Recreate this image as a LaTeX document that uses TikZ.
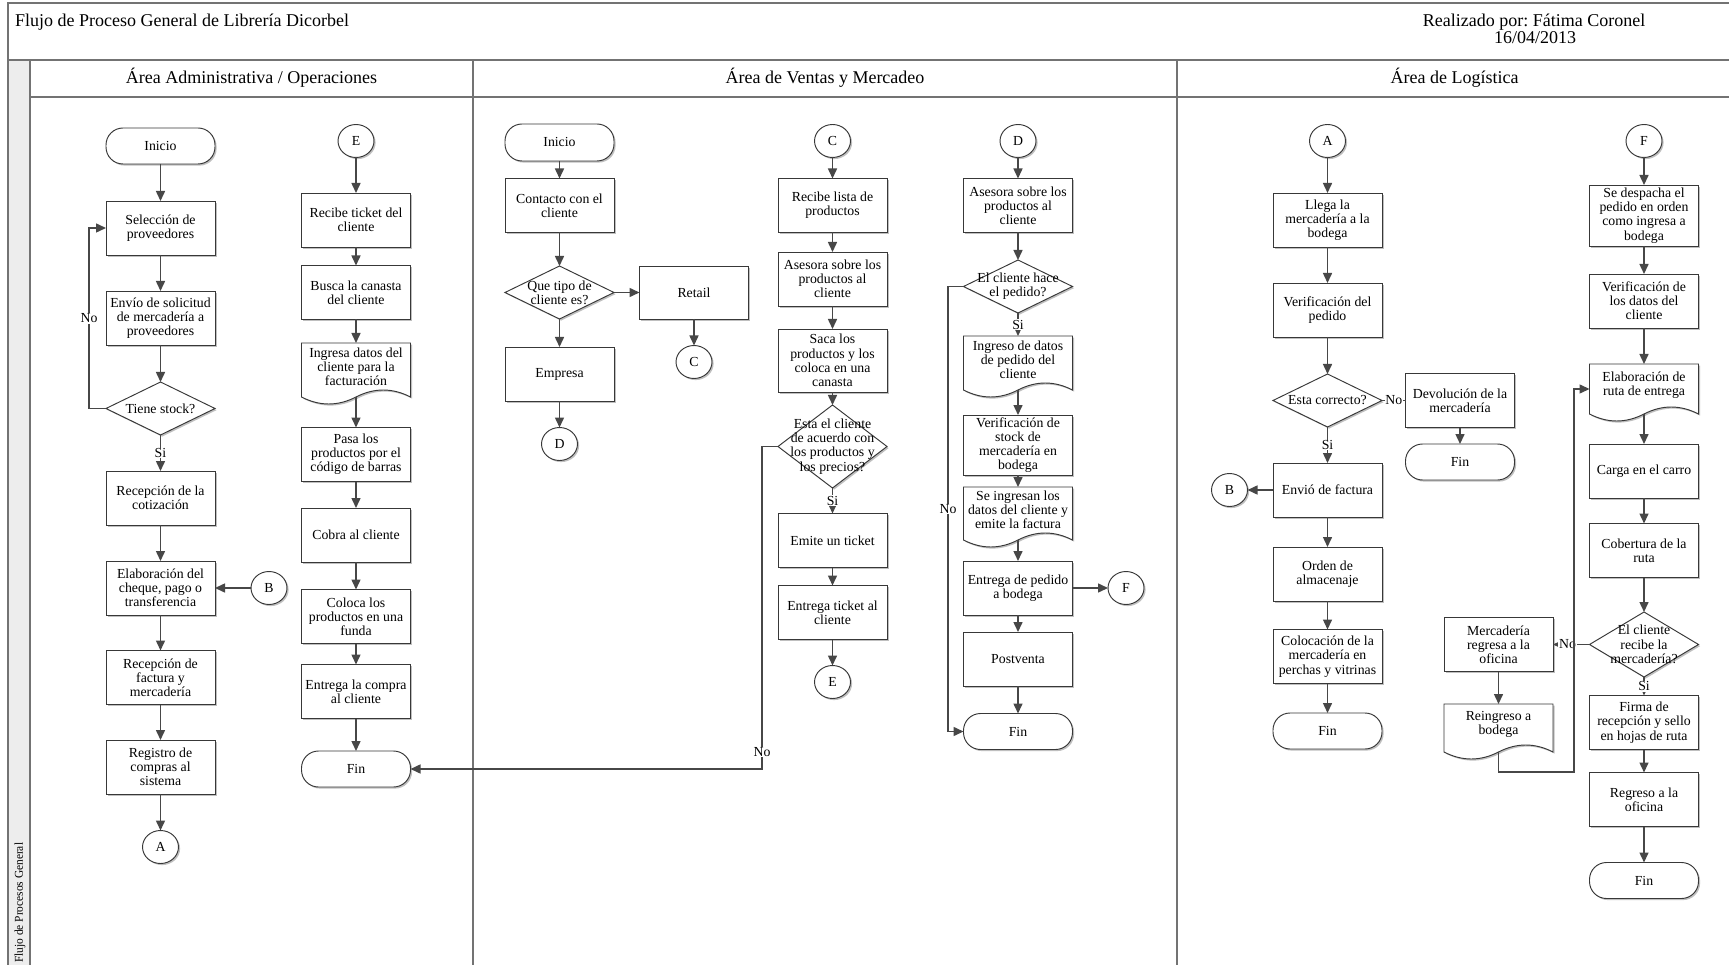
\documentclass[tikz,border=0pt]{standalone}
\usepackage{fontspec}
\setmainfont{Liberation Serif}
\usetikzlibrary{shapes.geometric,arrows.meta,shadows,calc}
\newcommand\myNF{\fontsize{13.8}{14.2}\selectfont}
\newcommand\myHF{\fontsize{18}{21}\selectfont}
\frenchspacing
\tikzset{
 ln/.style={draw=black!78, line width=0.95pt},
 shd/.style={drop shadow={shadow xshift=1.6pt,shadow yshift=-1.6pt,fill=black!25,opacity=1}},
 box/.style={rectangle, ln, fill=white, shd, minimum width=109pt, minimum height=54pt, inner sep=0pt, outer sep=0pt, font=\myNF, align=center},
 term/.style={box, rounded corners=17pt, minimum height=36pt},
 dia/.style={diamond, ln, fill=white, shd, minimum width=109pt, minimum height=53pt, inner sep=0pt, outer sep=0pt},
 con/.style={ellipse, ln, fill=white, shd, minimum width=36pt, minimum height=33pt, inner sep=0pt, outer sep=0pt, font=\myNF},
 txt/.style={font=\myNF, align=center, inner sep=0pt},
 arr/.style={draw=black!72, line width=1.5pt, -{Triangle[length=10pt,width=9pt]}},
 plain/.style={draw=black!72, line width=1.5pt},
 lbl/.style={font=\myNF, fill=white, inner sep=0.8pt},
 docbox/.style={rectangle, minimum width=109pt, inner sep=0pt, outer sep=0pt},
 frame/.style={draw=black!55, line width=1.3pt},
}
\newcommand\docn[5]{%
  \node[docbox, minimum height={(#4-#3)*1pt}] (#1) at (#2,{(#3+#4)/2}) {};
  \draw[ln, fill=white, shd] (#1.south east) -- (#1.north east) -- (#1.north west) -- (#1.south west)
     .. controls +(18.17,9.33) and +(-18.17,9.33) .. (#1.south)
     .. controls +(18.17,-9.33) and +(-18.17,-9.33) .. (#1.south east) -- cycle;
  \node[txt, yshift=3.5pt] (#1t) at (#1) {#5};
}
\begin{document}
\begin{tikzpicture}[x=1pt,y=-1pt]
\path[use as bounding box] (0,0) rectangle (1729,965);
\clip (0,0) rectangle (1729,965);
\fill[white] (0,0) rectangle (1729,965);
% frame
\fill[black!7] (8,60) rectangle (30,975);
\draw[frame] (8,975) -- (8,3) -- (1745,3);
\draw[frame] (8,60) -- (1745,60);
\draw[frame] (30,60) -- (30,975);
\draw[frame] (30,97) -- (1745,97);
\draw[frame] (473,60) -- (473,975);
\draw[frame] (1177,60) -- (1177,975);
\node[font=\myHF, anchor=base west, inner sep=0pt] (title) at (15,27) {Flujo de Proceso General de Librería Dicorbel};
\node[font=\myHF, anchor=base, inner sep=0pt] (autor) at (1534,27) {Realizado por: Fátima Coronel};
\node[font=\myHF, anchor=base, inner sep=0pt] (fecha) at (1535,44) {16/04/2013};
\node[font=\myHF, anchor=base, inner sep=0pt] (h1) at (251.5,84) {Área Administrativa / Operaciones};
\node[font=\myHF, anchor=base, inner sep=0pt] (h2) at (825,84) {Área de Ventas y Mercadeo};
\node[font=\myHF, anchor=base, inner sep=0pt] (h3) at (1454.5,84) {Área de Logística};
\node[font=\fontsize{12}{13}\selectfont, rotate=90, anchor=west, inner sep=0pt, xscale=0.95] (strip) at (20,963) {Flujo de Procesos General};

% ---------- lane 1, column 1
\node[term] (ini1) at (160.5,146) {Inicio};
\node[box] (sel) at (160.5,228) {Selección de\\proveedores};
\node[box] (env) at (160.5,318) {Envío de solicitud\\de mercadería a\\proveedores};
\node[dia] (stock) at (160.5,408.5) {};
\node[txt] (stockt) at (stock) {Tiene stock?};
\node[box] (rcot) at (160.5,498) {Recepción de la\\cotización};
\node[box] (elab) at (160.5,588) {Elaboración del\\cheque, pago o\\transferencia};
\node[con] (B1) at (269,588) {B};
\node[box] (rfac) at (160.5,677.5) {Recepción de\\factura y\\mercadería};
\node[box] (reg) at (160.5,767) {Registro de\\compras al\\sistema};
\node[con] (A1) at (160.5,847) {A};
% lane 1, column 2
\node[con] (E1) at (356,141) {E};
\node[box] (rtk) at (356,220) {Recibe ticket del\\cliente};
\node[box] (bus) at (356,292.5) {Busca la canasta\\del cliente};
\docn{ing}{356}{343}{397}{Ingresa datos del\\cliente para la\\facturación}
\node[box] (pasa) at (356,454.5) {Pasa los\\productos por el\\código de barras};
\node[box] (cobra) at (356,535) {Cobra al cliente};
\node[box] (coloca) at (356,616.5) {Coloca los\\productos en una\\funda};
\node[box] (entr) at (356,691.5) {Entrega la compra\\al cliente};
\node[term] (fin1) at (356,769) {Fin};

% ---------- lane 2
\node[term, minimum height=37pt] (ini2) at (559.5,142.5) {Inicio};
\node[box] (cont) at (559.5,205.5) {Contacto con el\\cliente};
\node[dia] (tipo) at (559.5,292.5) {};
\node[txt] (tipot) at (tipo) {Que tipo de\\cliente es?};
\node[box, minimum height=53pt] (retail) at (694,292.5) {Retail};
\node[con] (C1) at (694,362) {C};
\node[box] (emp) at (559.5,374) {Empresa};
\node[con] (D1) at (559.5,444) {D};
% column C
\node[con] (C2) at (832.5,141) {C};
\node[box] (rlis) at (832.5,205.5) {Recibe lista de\\productos};
\node[box] (ase1) at (832.5,279) {Asesora sobre los\\productos al\\cliente};
\node[box, minimum height=63pt] (saca) at (832.5,360.5) {Saca los\\productos y los\\coloca en una\\canasta};
\node[dia, minimum height=83pt] (acu) at (832.5,446.5) {};
\node[txt] (acut) at (acu) {Esta el cliente\\de acuerdo con\\los productos y\\los precios?};
\node[box] (emite) at (832.5,540.5) {Emite un ticket};
\node[box] (etk) at (832.5,612.5) {Entrega ticket al\\cliente};
\node[con] (E2) at (832.5,682) {E};
% column D
\node[con] (D2) at (1018,141) {D};
\node[box] (ase2) at (1018,205.5) {Asesora sobre los\\productos al\\cliente};
\node[dia] (hace) at (1018,286.5) {};
\node[txt] (hacet) at (hace) {El cliente hace\\el pedido?};
\docn{ingp}{1018}{336}{390}{Ingreso de datos\\de pedido del\\cliente}
\node[box, minimum height=60pt] (verst) at (1018,445) {Verificación de\\stock de\\mercadería en\\bodega};
\docn{seing}{1018}{487}{540}{Se ingresan los\\datos del cliente y\\emite la factura}
\node[box] (entp) at (1018,588) {Entrega de pedido\\a bodega};
\node[con] (F1) at (1126,588) {F};
\node[box] (post) at (1018,659) {Postventa};
\node[term] (fin2) at (1018,731.5) {Fin};

% ---------- lane 3, column A
\node[con] (A2) at (1327.5,141) {A};
\node[box] (llega) at (1327.5,220) {Llega la\\mercadería a la\\bodega};
\node[box] (verp) at (1327.5,310) {Verificación del\\pedido};
\node[dia] (corr) at (1327.5,400.5) {};
\node[txt] (corrt) at (corr) {Esta correcto?};
\node[box] (dev) at (1460,400.5) {Devolución de la\\mercadería};
\node[term] (fin3) at (1460,462) {Fin};
\node[box] (fact) at (1327.5,490) {Envió de factura};
\node[con] (B2) at (1229.5,490) {B};
\node[box] (orden) at (1327.5,574) {Orden de\\almacenaje};
\node[box] (coloc) at (1327.5,656.5) {Colocación de la\\mercadería en\\perchas y vitrinas};
\node[term] (fin4) at (1327.5,731) {Fin};
% column F
\node[con] (F2) at (1644,141) {F};
\node[box, minimum height=61pt] (desp) at (1644,215.5) {Se despacha el\\pedido en orden\\como ingresa a\\bodega};
\node[box] (verd) at (1644,301) {Verificación de\\los datos del\\cliente};
\docn{ruta}{1644}{364}{414}{Elaboración de\\ruta de entrega}
\node[box] (carga) at (1644,471) {Carga en el carro};
\node[box] (cober) at (1644,550.5) {Cobertura de la\\ruta};
\node[dia, minimum height=65pt] (recibe) at (1644,644.5) {};
\node[txt] (recibet) at (recibe) {El cliente\\recibe la\\mercadería?};
\node[box] (merc) at (1498.5,644.5) {Mercadería\\regresa a la\\oficina};
\docn{reing}{1498.5}{704}{752}{Reingreso a\\bodega}
\node[box] (firma) at (1644,722.5) {Firma de\\recepción y sello\\en hojas de ruta};
\node[box] (regr) at (1644,799.5) {Regreso a la\\oficina};
\node[term] (fin5) at (1644,880.5) {Fin};

% helper coordinates for loops
\coordinate (nB) at (89,0);
\coordinate (nA) at (762,0);
\coordinate (nC) at (948,0);
\coordinate (nD) at (1574,772);

% ---------- connectors lane 1
\draw[arr] (ini1) -- (sel);
\draw[arr] (sel) -- (env);
\draw[arr] (env) -- (stock);
\draw[arr] (stock) -- node[lbl] (si1) {Si} (rcot);
\draw[arr] (stock.west) -| node[lbl, pos=0.75] (no1) {No} (sel.west -| nB) -- (sel.west);
\draw[arr] (rcot) -- (elab);
\draw[arr] (B1) -- (elab);
\draw[arr] (elab) -- (rfac);
\draw[arr] (rfac) -- (reg);
\draw[arr] (reg) -- (A1);
\draw[arr] (E1) -- (rtk);
\draw[arr] (rtk) -- (bus);
\draw[arr] (bus) -- (ing);
\draw[arr] (ing) -- (pasa);
\draw[arr] (pasa) -- (cobra);
\draw[arr] (cobra) -- (coloca);
\draw[arr] (coloca) -- (entr);
\draw[arr] (entr) -- (fin1);
% lane 2
\draw[arr] (ini2) -- (cont);
\draw[arr] (cont) -- (tipo);
\draw[arr] (tipo) -- (retail);
\draw[arr] (retail) -- (C1);
\draw[arr] (tipo) -- (emp);
\draw[arr] (emp) -- (D1);
\draw[arr] (C2) -- (rlis);
\draw[arr] (rlis) -- (ase1);
\draw[arr] (ase1) -- (saca);
\draw[arr] (saca) -- (acu);
\draw[arr] (acu) -- node[lbl] (si2) {Si} (emite);
\draw[arr] (emite) -- (etk);
\draw[arr] (etk) -- (E2);
\draw[arr] (acu.west) -| (nA |- fin1.east) -- (fin1.east);
\node[lbl] (no2) at (762,752) {No};
\draw[arr] (D2) -- (ase2);
\draw[arr] (ase2) -- (hace);
\draw[arr] (hace) -- node[lbl] (si3) {Si} (ingp);
\draw[arr] (ingp) -- (verst);
\draw[arr] (verst) -- (seing);
\draw[arr] (seing) -- (entp);
\draw[arr] (entp) -- (F1);
\draw[arr] (entp) -- (post);
\draw[arr] (post) -- (fin2);
\draw[arr] (hace.west) -| node[lbl, pos=0.75] (no3) {No} (nC |- fin2.west) -- (fin2.west);
% lane 3
\draw[arr] (A2) -- (llega);
\draw[arr] (llega) -- (verp);
\draw[arr] (verp) -- (corr);
\draw[arr] (corr) -- node[lbl] (si4) {Si} (fact);
\draw[plain] (corr) -- node[lbl] (no4) {No} (dev);
\draw[arr] (dev) -- (fin3);
\draw[arr] (fact) -- (B2);
\draw[arr] (fact) -- (orden);
\draw[arr] (orden) -- (coloc);
\draw[arr] (coloc) -- (fin4);
\draw[arr] (F2) -- (desp);
\draw[arr] (desp) -- (verd);
\draw[arr] (verd) -- (ruta);
\draw[arr] (ruta) -- (carga);
\draw[arr] (carga) -- (cober);
\draw[arr] (cober) -- (recibe);
\draw[arr] (recibe) -- node[lbl] (si5) {Si} (firma);
\draw[arr] (recibe) -- node[lbl, pos=0.6] (no5) {No} (merc);
\draw[arr] (merc) -- (reing);
\draw[arr] (reing.south) |- (nD) |- (ruta.west);
\draw[arr] (firma) -- (regr);
\draw[arr] (regr) -- (fin5);
\end{tikzpicture}
\end{document}
